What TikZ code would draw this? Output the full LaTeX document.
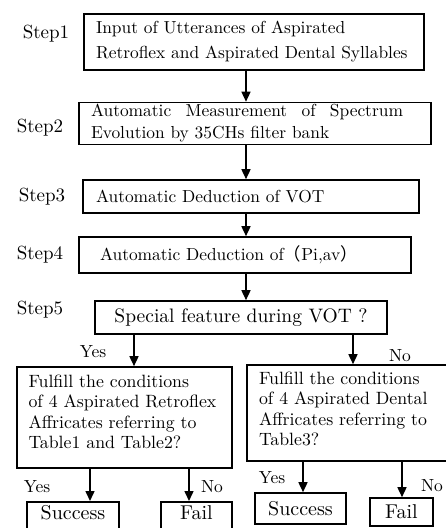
\documentclass[tikz,border=0pt]{standalone}
\usepackage{fontspec}
\setmainfont{lmroman10-regular}[Extension=.otf]
\newfontfamily\cjkfont{Noto Sans CJK SC}
\usetikzlibrary{arrows.meta}
\tikzset{
  box/.style={draw, line width=1.6pt, rectangle, inner ysep=2pt, align=left,
    font=\fontsize{17.4}{22}\selectfont},
  steplbl/.style={font=\fontsize{19}{22}\selectfont},
  yn/.style={font=\fontsize{17.5}{21}\selectfont},
  arr/.style={line width=1.5pt, -{Triangle[length=10pt,width=9pt]}},
  res/.style={draw, line width=1.6pt, inner ysep=0pt, font=\fontsize{20}{24}\selectfont}
}
\begin{document}
\begin{tikzpicture}[x=1pt,y=1pt]
\fill[white] (0,0) rectangle (446,-528);
\useasboundingbox (0,0) rectangle (446,-528);

% main steps
\node[box, text width=316pt, inner xsep=12pt, minimum height=56pt,
  font=\fontsize{17.4}{25}\selectfont] (b1) at (254,-42)
  {Input of Utterances of Aspirated\\Retroflex and Aspirated Dental Syllables};
\node[box, text width=328pt, inner xsep=12pt, minimum height=41pt] (b2) at (255,-123.5)
  {\makebox[312pt][s]{Automatic\hfill Measurement\hfill of\hfill Spectrum}\\Evolution by 35CHs filter bank};
\node[box, text width=310pt, inner xsep=13pt, minimum height=33pt] (b3) at (251,-196.5)
  {Automatic Deduction of VOT};
\node[box, text width=290pt, inner xsep=21pt, minimum height=36pt] (b4) at (245,-255)
  {Automatic Deduction of{\cjkfont （}Pi,av{\cjkfont ）}};
\node[box, align=center, minimum width=292pt, minimum height=33pt,
  font=\fontsize{19.5}{22}\selectfont] (b5) at (241,-317.5)
  {Special feature during VOT ?};

% decision boxes
\node[box, text width=192pt, inner xsep=11.5pt, minimum height=101pt, text depth=73.5pt,
  font=\fontsize{17.8}{20.5}\selectfont] (b6) at (124.5,-417.5)
  {\mbox{Fulfill the conditions}\\\mbox{of 4 Aspirated Retroflex}\\\mbox{Affricates referring to}\\\mbox{Table1 and Table2?}};
\node[box, text width=184pt, inner xsep=12pt, minimum height=96pt, text depth=70.5pt,
  font=\fontsize{17.8}{20.5}\selectfont] (b7) at (351,-413)
  {\mbox{Fulfill the conditions}\\\mbox{of 4 Aspirated Dental}\\\mbox{Affricates referring to}\\\mbox{Table3?}};

% results
\node[res, anchor=north, minimum width=92pt, text height=18pt, text depth=15pt] (s1) at (73,-501) {Success};
\node[res, anchor=north, minimum width=71pt, text height=18pt, text depth=15pt] (f1) at (196.5,-501) {Fail};
\node[res, minimum width=91pt, minimum height=31pt] (s2) at (300.5,-508.5) {Success};
\node[res, minimum width=63pt, minimum height=28pt] (f2) at (401.5,-512) {Fail};

% step labels
\node[steplbl] (st1) at (46,-34) {Step1};
\node[steplbl] (st2) at (40,-128) {Step2};
\node[steplbl] (st3) at (42,-197) {Step3};
\node[steplbl] (st4) at (40,-255) {Step4};
\node[steplbl] (st5) at (40,-310) {Step5};

% yes/no labels
\node[yn] (y1) at (93,-352) {Yes};
\node[yn] (n1) at (400,-356) {No};
\node[yn] (y2) at (37,-487) {Yes};
\node[yn] (n2) at (212,-487) {No};
\node[yn] (y3) at (272,-478) {Yes};
\node[yn] (n3) at (432,-486) {No};

% connectors
\coordinate (cm) at (246,0);
\coordinate (cl) at (134,0);
\coordinate (cr) at (353,0);
\coordinate (c6a) at (90,0);
\coordinate (c6b) at (189,0);
\coordinate (c7a) at (303,0);
\coordinate (c7b) at (402,0);
\draw[arr] (b1.south -| cm) -- (b2.north -| cm);
\draw[arr] (b2.south -| cm) -- (b3.north -| cm);
\draw[arr] (b3.south -| cm) -- (b4.north -| cm);
\draw[arr] (b4.south -| cm) -- (b5.north -| cm);
\draw[arr] (b5.south -| cl) -- (b6.north -| cl);
\draw[arr] (b5.south -| cr) -- (b7.north -| cr);
\draw[arr] (b6.south -| c6a) -- (s1.north -| c6a);
\draw[arr] (b6.south -| c6b) -- (f1.north -| c6b);
\draw[arr] (b7.south -| c7a) -- (s2.north -| c7a);
\draw[arr] (b7.south -| c7b) -- (f2.north -| c7b);
\end{tikzpicture}
\end{document}
